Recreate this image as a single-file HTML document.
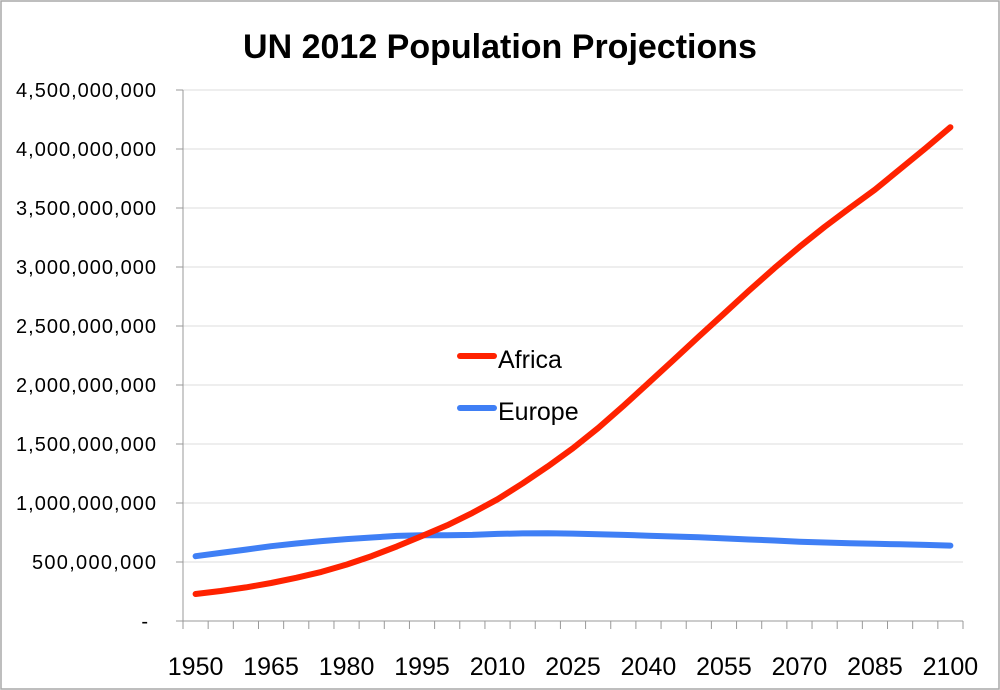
<!DOCTYPE html>
<html><head><meta charset="utf-8"><style>body{margin:0;background:#fff}svg{display:block;font-family:"Liberation Sans",sans-serif}</style></head>
<body>
<svg id="s" width="1000" height="690" viewBox="0 0 1000 690">
<rect x="1" y="1" width="998" height="688" fill="#fff" stroke="#a8a8a8" stroke-width="1.5"/>
<text x="500" y="58" text-anchor="middle" font-size="34" font-weight="bold" fill="#000">UN 2012 Population Projections</text>
<g id="g"></g>
<text x="498" y="368" font-size="25">Africa</text>
<line x1="460" y1="356" x2="494" y2="356" stroke="#ff2200" stroke-width="6" stroke-linecap="round"/>
<text x="498" y="420" font-size="25">Europe</text>
<line x1="460" y1="408" x2="494" y2="408" stroke="#3f7ff5" stroke-width="6" stroke-linecap="round"/>
</svg>
<script>
var g=document.getElementById('g'),h='';
var X0=183,X1=963,Y0=621,Yt=90,step=(Y0-Yt)/9;
var labs=['-','500,000,000','1,000,000,000','1,500,000,000','2,000,000,000','2,500,000,000','3,000,000,000','3,500,000,000','4,000,000,000','4,500,000,000'];
for(var i=0;i<10;i++){var y=Y0-i*step;
 if(i>0)h+='<line x1="'+X0+'" y1="'+y+'" x2="'+X1+'" y2="'+y+'" stroke="#dcdcdc" stroke-width="1"/>';
 h+='<line x1="176" y1="'+y+'" x2="'+X0+'" y2="'+y+'" stroke="#999"/>';
 h+='<text x="'+(i==0?148:156)+'" y="'+(y+7)+'" text-anchor="end" font-size="20" textLength="'+(i==0?0:(labs[i].length==11?124:140))+'">'+labs[i]+'</text>';}
h+='<line x1="'+X0+'" y1="'+Yt+'" x2="'+X0+'" y2="'+Y0+'" stroke="#999"/>';
h+='<line x1="'+X0+'" y1="'+Y0+'" x2="'+X1+'" y2="'+Y0+'" stroke="#999"/>';
var n=31,w=(X1-X0)/n;
for(var i=0;i<=n;i++){var x=X0+i*w;h+='<line x1="'+x+'" y1="'+Y0+'" x2="'+x+'" y2="'+(Y0+8)+'" stroke="#999"/>';}
for(var i=0;i<n;i+=3){var x=X0+(i+0.5)*w;h+='<text x="'+x+'" y="675" text-anchor="middle" font-size="25">'+(1950+i*5)+'</text>';}
var af=[229,254,285,322,366,416,478,550,632,720,811,916,1031,1166,1310,1464,1636,1822,2017,2213,2410,2605,2800,2990,3170,3340,3500,3655,3830,4005,4185];
var eu=[549,577,605,634,657,677,694,708,721,727,726,730,738,742,744,741,736,730,723,716,709,700,691,682,672,665,659,654,650,645,639];
function pts(a){return a.map(function(v,i){return (X0+(i+0.5)*w).toFixed(1)+','+(Y0-v/500*step).toFixed(1)}).join(' ');}
h+='<polyline points="'+pts(eu)+'" fill="none" stroke="#3f7ff5" stroke-width="6" stroke-linejoin="round" stroke-linecap="round"/>';
h+='<polyline points="'+pts(af)+'" fill="none" stroke="#ff2200" stroke-width="6" stroke-linejoin="round" stroke-linecap="round"/>';
g.innerHTML=h;
</script>
</body></html>
